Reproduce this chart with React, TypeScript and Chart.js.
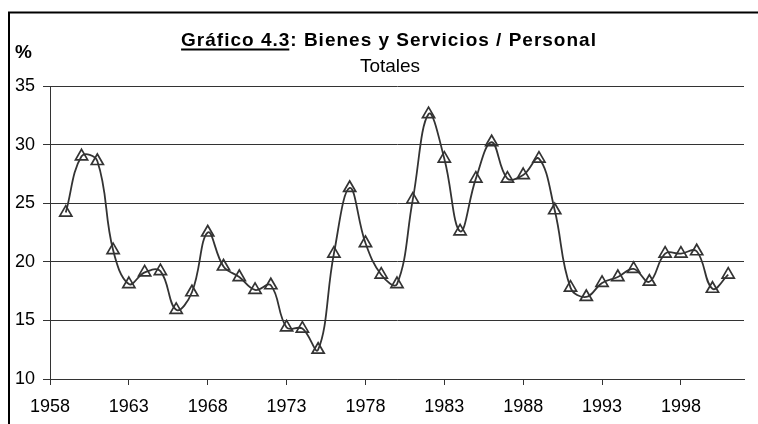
import React, { useEffect, useRef } from "react";
import { Chart, registerables } from "chart.js";

Chart.register(...registerables);

const years = [
  1959, 1960, 1961, 1962, 1963, 1964, 1965, 1966, 1967, 1968,
  1969, 1970, 1971, 1972, 1973, 1974, 1975, 1976, 1977, 1978,
  1979, 1980, 1981, 1982, 1983, 1984, 1985, 1986, 1987, 1988,
  1989, 1990, 1991, 1992, 1993, 1994, 1995, 1996, 1997, 1998,
  1999, 2000, 2001,
];
const totales = [
  24.2, 29.0, 28.6, 21.0, 18.1, 19.1, 19.2, 15.9, 17.4, 22.5,
  19.6, 18.7, 17.6, 18.0, 14.4, 14.3, 12.5, 20.7, 26.3, 21.6,
  18.9, 18.1, 25.3, 32.6, 28.8, 22.6, 27.1, 30.2, 27.1, 27.4,
  28.8, 24.4, 17.8, 17.0, 18.2, 18.7, 19.4, 18.3, 20.7, 20.7,
  20.9, 17.7, 18.9,
];
const xTickYears = [1958, 1963, 1968, 1973, 1978, 1983, 1988, 1993, 1998];
const xMin = 1958;
const xMax = 2002;
const yMin = 10;
const yMax = 35;
const yStep = 5;

const titleMain = "Gráfico 4.3: Bienes y Servicios / Personal";
const titleUnderlined = "Gráfico 4.3";
const subtitle = "Totales";
const unitLabel = "%";

const FONT = '"Liberation Sans", Arial, sans-serif';

const decorPlugin = {
  id: "decor",
  beforeDraw(chart: any) {
    const ctx = chart.ctx;
    ctx.save();
    ctx.fillStyle = "#ffffff";
    ctx.fillRect(0, 0, chart.width, chart.height);
    ctx.strokeStyle = "#000000";
    ctx.lineWidth = 2;
    ctx.beginPath();
    ctx.moveTo(9, chart.height + 2);
    ctx.lineTo(9, 12.5);
    ctx.lineTo(chart.width + 2, 12.5);
    ctx.stroke();
    ctx.restore();
  },
  afterDraw(chart: any) {
    const ctx = chart.ctx;
    ctx.save();
    ctx.fillStyle = "#000000";
    ctx.textBaseline = "alphabetic";
    ctx.textAlign = "left";
    // title
    ctx.font = `bold 19px ${FONT}`;
    (ctx as any).letterSpacing = "1px";
    const w = ctx.measureText(titleMain).width;
    const x0 = 389 - w / 2;
    ctx.fillText(titleMain, x0, 46);
    const wu = ctx.measureText(titleUnderlined).width;
    ctx.fillRect(x0, 48.5, wu - 1, 2);
    (ctx as any).letterSpacing = "0px";
    // subtitle
    ctx.font = `19px ${FONT}`;
    ctx.textAlign = "center";
    ctx.fillText(subtitle, 390, 72);
    // unit
    ctx.font = `bold 19px ${FONT}`;
    ctx.textAlign = "left";
    ctx.fillText(unitLabel, 15, 58);
    ctx.restore();
  },
};

export default function App() {
  const ref = useRef<HTMLCanvasElement | null>(null);
  useEffect(() => {
    if (!ref.current) return;
    const chart = new Chart(ref.current, {
      type: "line",
      data: {
        datasets: [
          {
            label: subtitle,
            data: years.map((y, i) => ({ x: y, y: totales[i] })),
            borderColor: "#333333",
            borderWidth: 1.8,
            tension: 0.4,
            pointStyle: "triangle",
            pointRadius: 7,
            pointBorderWidth: 1.7,
            pointBorderColor: "#333333",
            pointBackgroundColor: "rgba(0,0,0,0)",
            fill: false,
          },
        ],
      },
      options: {
        animation: false,
        responsive: false,
        devicePixelRatio: 1,
        layout: { padding: { top: 86, left: 0, right: 14, bottom: 0 } },
        plugins: {
          legend: { display: false },
          title: { display: false },
          tooltip: { enabled: false },
        },
        scales: {
          x: {
            type: "linear",
            min: xMin,
            max: xMax,
            afterBuildTicks: (scale: any) => {
              scale.ticks = xTickYears.map((v) => ({ value: v }));
            },
            afterFit: (scale: any) => {
              scale.height = 45;
            },
            ticks: {
              color: "#000000",
              font: { family: FONT, size: 18 },
              padding: 11,
              maxRotation: 0,
              autoSkip: false,
              callback: (v: any) => String(v),
            },
            grid: {
              display: true,
              drawOnChartArea: false,
              drawTicks: true,
              tickLength: 6,
              color: "#333333",
              lineWidth: 1,
            },
            border: { display: true, color: "#333333", width: 1 },
          },
          y: {
            type: "linear",
            min: yMin,
            max: yMax,
            afterFit: (scale: any) => {
              scale.width = 50;
            },
            ticks: {
              stepSize: yStep,
              color: "#000000",
              font: { family: FONT, size: 18 },
              padding: 8,
            },
            grid: {
              display: true,
              drawOnChartArea: true,
              drawTicks: true,
              tickLength: 7,
              color: "#333333",
              lineWidth: 1,
            },
            border: { display: true, color: "#333333", width: 1 },
          },
        },
      },
      plugins: [decorPlugin],
    } as any);
    return () => chart.destroy();
  }, []);
  return (
    <div style={{ position: "absolute", left: 0, top: 0, width: 758, height: 424, background: "#fff" }}>
      <canvas ref={ref} width={758} height={424} style={{ width: 758, height: 424, display: "block" }} />
    </div>
  );
}
